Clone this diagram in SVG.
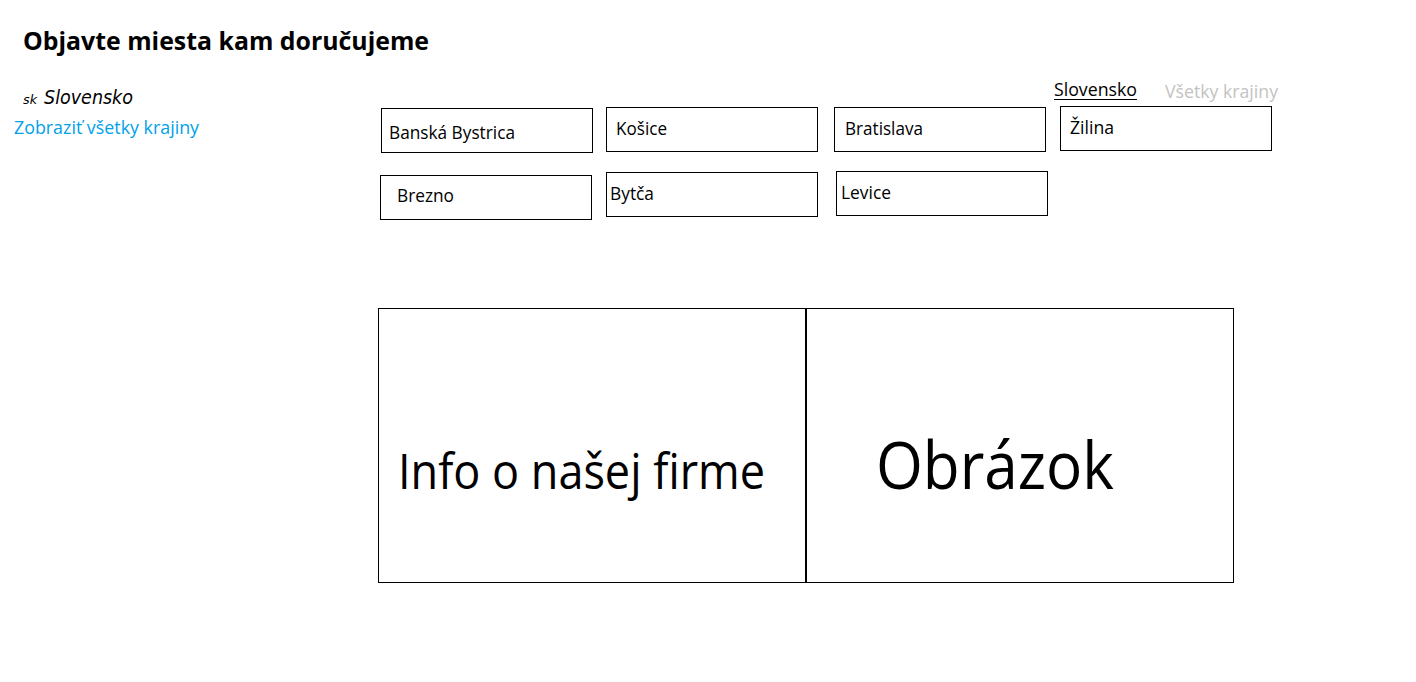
<svg xmlns="http://www.w3.org/2000/svg" width="1416" height="682" viewBox="0 0 1416 682">
<style>
text{font-family:"Open Sans","Noto Sans","Liberation Sans",sans-serif;fill:#000}
.box{fill:#fff;stroke:#000;stroke-width:1}
.t{font-size:18px}
</style>
<rect width="1416" height="682" fill="#fff"/>
<g id="header">
<text x="23" y="50" font-size="25" font-weight="bold" textLength="406" lengthAdjust="spacingAndGlyphs">Objavte miesta kam doručujeme</text>
<text x="23" y="104" font-size="12" textLength="14" lengthAdjust="spacingAndGlyphs" style="font-family:'DejaVu Sans',sans-serif;font-style:italic">sk</text>
<text x="44" y="104" font-size="20" textLength="89" lengthAdjust="spacingAndGlyphs" style="font-family:'DejaVu Sans',sans-serif;font-style:italic">Slovensko</text>
<text x="14" y="134" font-size="18" textLength="185" lengthAdjust="spacingAndGlyphs" style="fill:#00a2e8">Zobraziť všetky krajiny</text>
</g>
<g id="tabs">
<text x="1054" y="96" class="t" textLength="83" lengthAdjust="spacingAndGlyphs">Slovensko</text>
<line x1="1054" y1="99.5" x2="1137" y2="99.5" stroke="#000" stroke-width="1"/>
<text x="1165" y="98" class="t" textLength="113" lengthAdjust="spacingAndGlyphs" style="fill:#c3c3c3">Všetky krajiny</text>
</g>
<g id="node-banska-bystrica"><rect class="box" x="381.5" y="108.5" width="211" height="44"/><text x="389" y="139" class="t" textLength="126" lengthAdjust="spacingAndGlyphs">Banská Bystrica</text></g>
<g id="node-kosice"><rect class="box" x="606.5" y="107.5" width="211" height="44"/><text x="616" y="135" class="t" textLength="51" lengthAdjust="spacingAndGlyphs">Košice</text></g>
<g id="node-bratislava"><rect class="box" x="834.5" y="107.5" width="211" height="44"/><text x="845" y="135" class="t" textLength="78" lengthAdjust="spacingAndGlyphs">Bratislava</text></g>
<g id="node-zilina"><rect class="box" x="1060.5" y="106.5" width="211" height="44"/><text x="1070" y="134" class="t" textLength="44" lengthAdjust="spacingAndGlyphs">Žilina</text></g>
<g id="node-brezno"><rect class="box" x="380.5" y="175.5" width="211" height="44"/><text x="397" y="202" class="t" textLength="57" lengthAdjust="spacingAndGlyphs">Brezno</text></g>
<g id="node-bytca"><rect class="box" x="606.5" y="172.5" width="211" height="44"/><text x="610" y="200" class="t" textLength="44" lengthAdjust="spacingAndGlyphs">Bytča</text></g>
<g id="node-levice"><rect class="box" x="836.5" y="171.5" width="211" height="44"/><text x="841" y="199" class="t" textLength="50" lengthAdjust="spacingAndGlyphs">Levice</text></g>
<g id="node-info"><rect class="box" x="378.5" y="308.5" width="427.5" height="274"/><text x="398" y="489" font-size="50" textLength="367" lengthAdjust="spacingAndGlyphs">Info o našej firme</text></g>
<g id="node-obrazok"><rect class="box" x="806" y="308.5" width="427.5" height="274"/><text x="876" y="489" font-size="66" textLength="238" lengthAdjust="spacingAndGlyphs">Obrázok</text></g>
<line x1="806" y1="308" x2="806" y2="583" stroke="#000" stroke-width="2"/>
<g id="connectors"></g>
</svg>
